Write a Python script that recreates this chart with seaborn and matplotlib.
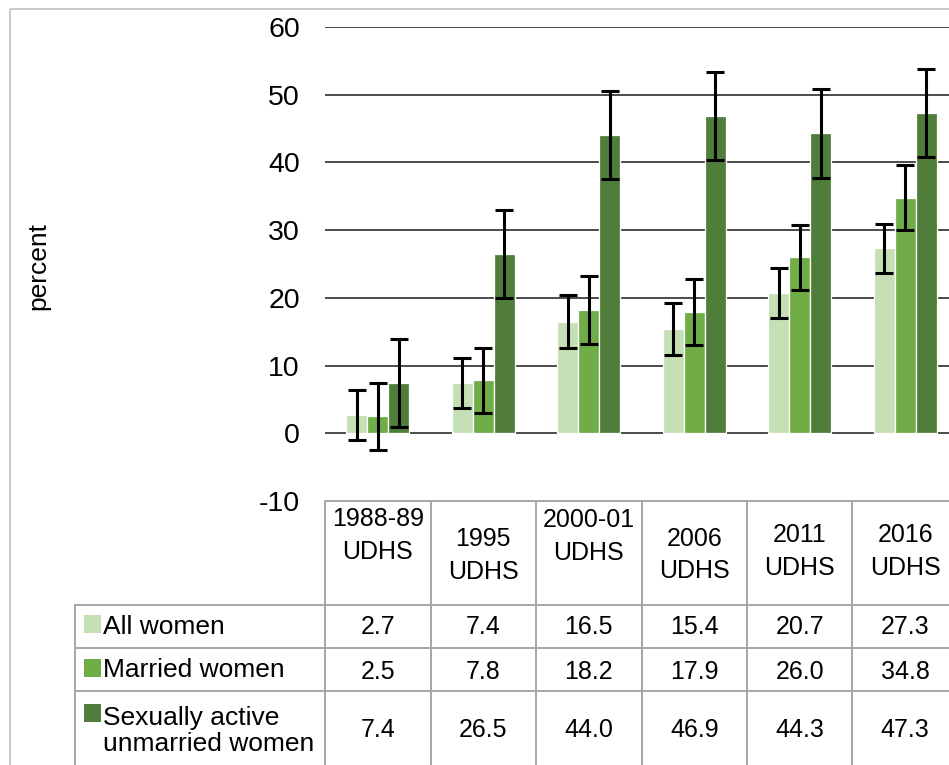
import matplotlib
matplotlib.use("Agg")
import matplotlib.pyplot as plt
import matplotlib.transforms as mtransforms
from matplotlib.patches import Rectangle
import pandas as pd
import seaborn as sns

# data
surveys = ["1988-89\nUDHS", "1995\nUDHS", "2000-01\nUDHS", "2006\nUDHS", "2011\nUDHS", "2016\nUDHS"]
groups = ["All women", "Married women", "Sexually active\nunmarried women"]
all_women = [2.7, 7.4, 16.5, 15.4, 20.7, 27.3]
married_women = [2.5, 7.8, 18.2, 17.9, 26.0, 34.8]
active_unmarried = [7.4, 26.5, 44.0, 46.9, 44.3, 47.3]
err_all = [3.7, 3.65, 3.9, 3.8, 3.7, 3.6]
err_married = [4.9, 4.8, 5.0, 4.9, 4.8, 4.75]
err_active = [6.5, 6.5, 6.5, 6.5, 6.6, 6.5]
colors = ["#C5E0B4", "#70AD47", "#507E3A"]

values = [all_women, married_women, active_unmarried]
errors = [err_all, err_married, err_active]

df = pd.DataFrame({
    "survey": surveys * 3,
    "group": [g for g in groups for _ in surveys],
    "percent": all_women + married_women + active_unmarried,
})

'''Plot Setting'''
sns.set_style("white")
plt.rcParams['font.family'] = ['Liberation Sans', 'DejaVu Sans']
plt.rcParams['axes.unicode_minus'] = False
plt.rcParams['text.color'] = 'black'
plt.rcParams['ytick.color'] = 'black'

W, H = 949, 765
fig = plt.figure(figsize=(W / 100, H / 100), dpi=100)

# overlay in pixel coordinates for the table and frame
ov = fig.add_axes([0, 0, 1, 1])
ov.set_xlim(0, W)
ov.set_ylim(H, 0)
ov.axis("off")

ax_left, ax_right, ax_top, ax_bot = 325, 958, 27, 501
ax = fig.add_axes([ax_left / W, (H - ax_bot) / H, (ax_right - ax_left) / W, (ax_bot - ax_top) / H])
ax.set_facecolor("none")

sns.barplot(data=df, x="survey", y="percent", hue="group", hue_order=groups,
            order=surveys, palette=colors, saturation=1, width=0.6, edgecolor="white",
            linewidth=0.9, errorbar=None, legend=False, ax=ax)

for cont, err in zip(ax.containers, errors):
    xs = [b.get_x() + b.get_width() / 2 for b in cont]
    hs = [b.get_height() for b in cont]
    ax.errorbar(xs, hs, yerr=err, fmt="none", ecolor="black",
                elinewidth=2.2, capsize=6.2, capthick=2.2, zorder=5)

ax.set_xlim(-0.5, len(surveys) - 0.5)
ax.set_ylim(-10, 60)
ax.set_yticks(range(-10, 61, 10))
ax.set_xticks(range(len(surveys)))
ax.set_xticklabels([])
ax.set_xlabel("")
ax.set_ylabel("")
ax.tick_params(axis="y", length=0, pad=18, labelsize=20.5, labelcolor="black")
ax.tick_params(axis="x", length=0)
for s in ax.spines.values():
    s.set_visible(False)
ax.yaxis.grid(True, color="#1a1a1a", linewidth=1.1)
ax.set_axisbelow(True)
ax.yaxis.get_gridlines()[0].set_visible(False)

ov.text(38, 266, "percent", rotation=90, ha="center", va="center", fontsize=19)

# outer chart frame
ov.add_patch(Rectangle((10, 8.5), 1000, 1000, fill=False, edgecolor="#BFBFBF", lw=1.2))

# data table
trans = mtransforms.blended_transform_factory(ax.transData, ov.transData)
line_kw = dict(color="#A6A6A6", lw=1.4)
n = len(surveys)
for i in range(n + 1):
    ov.plot([i - 0.5, i - 0.5], [ax_bot, H + 5], transform=trans, **line_kw)
ov.plot([-0.5, n - 0.5], [ax_bot, ax_bot], transform=trans, **line_kw)
row_lines = [605, 648, 691]
for y in row_lines:
    ov.plot([75, W + 20], [y, y], **line_kw)
ov.plot([75, 75], [605, H + 5], **line_kw)

header_y = [535.5, 555.5, 536.5, 555, 551.5, 551.5]
for i, (lab, hy) in enumerate(zip(surveys, header_y)):
    ov.text(i, hy, lab, transform=trans, ha="center", va="center",
            fontsize=18, linespacing=1.45)

value_y = [627, 672, 730]
for vals, vy in zip(values, value_y):
    for i, v in enumerate(vals):
        ov.text(i, vy, f"{v:.1f}", transform=trans, ha="center", va="center", fontsize=18)

key_y = [615, 659, 704]
label_y = [627, 670, 731]
for c, g, ky, ly in zip(colors, groups, key_y, label_y):
    ov.add_patch(Rectangle((84, ky), 17, 18, facecolor=c, edgecolor="none"))
    ov.text(103, ly, g, ha="left", va="center", fontsize=19, linespacing=1.15)

plt.savefig("out.png", dpi=100)
